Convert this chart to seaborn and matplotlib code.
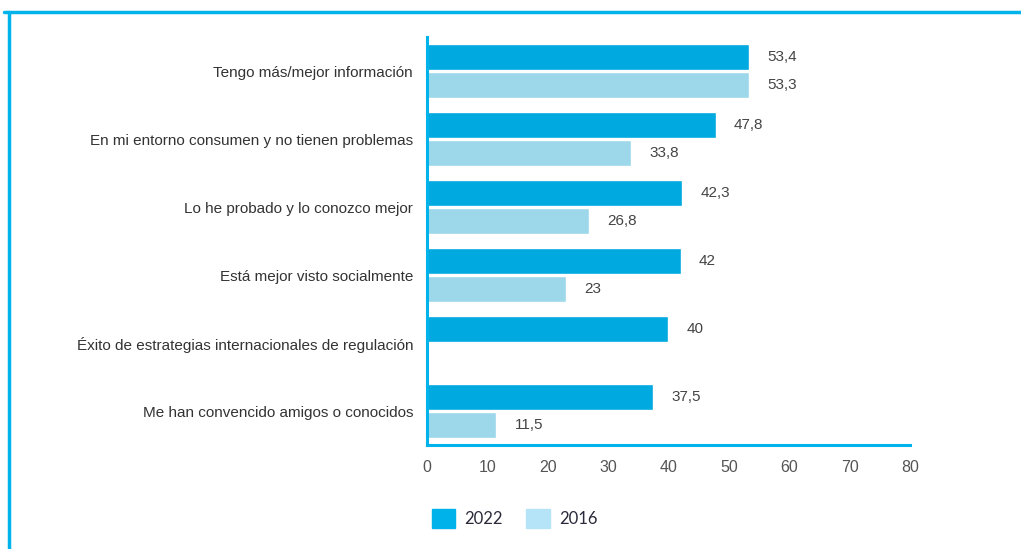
import numpy as np
import pandas as pd
import seaborn as sns
import matplotlib.pyplot as plt
from matplotlib.patches import Patch
from matplotlib.lines import Line2D

# Data
reasons = [
    "Tengo más/mejor información",
    "En mi entorno consumen y no tienen problemas",
    "Lo he probado y lo conozco mejor",
    "Está mejor visto socialmente",
    "Éxito de estrategias internacionales de regulación",
    "Me han convencido amigos o conocidos",
]
values_2022 = [53.4, 47.8, 42.3, 42, 40, 37.5]
values_2016 = [53.3, 33.8, 26.8, 23, np.nan, 11.5]
years = ["2022", "2016"]
x_ticks = [0, 10, 20, 30, 40, 50, 60, 70, 80]

df = pd.DataFrame({
    "reason": reasons * 2,
    "value": values_2022 + values_2016,
    "year": ["2022"] * len(reasons) + ["2016"] * len(reasons),
})

blue = "#00A9E0"
light = "#9CD8EA"
frame_blue = "#00B4EB"

sns.set_style("white")
plt.rcParams["font.family"] = ["Liberation Sans", "DejaVu Sans"]

fig = plt.figure(figsize=(10.21, 5.49), dpi=100)
ax = fig.add_axes([0.4182, 0.1894, 0.4731, 0.7432])

sns.barplot(data=df, y="reason", x="value", hue="year", hue_order=years,
            palette=[blue, light], orient="h", width=0.8, gap=0.05,
            saturation=1, legend=False, ax=ax)

# value labels with comma decimals
for cont in ax.containers:
    ax.bar_label(cont, fmt=lambda v: f"{v:g}".replace(".", ","),
                 padding=13, fontsize=11, color="#444444")

ax.set_xlim(0, 80)
ax.set_ylim(5.5, -0.5)
ax.set_xticks(x_ticks)
ax.set_xlabel("")
ax.set_ylabel("")
ax.tick_params(axis="x", length=0, pad=11, labelsize=11.5, labelcolor="#555555")
ax.tick_params(axis="y", length=0, pad=10, labelsize=11, labelcolor="#333333")

for s in ["top", "right"]:
    ax.spines[s].set_visible(False)
for s in ["left", "bottom"]:
    ax.spines[s].set_color(frame_blue)
    ax.spines[s].set_linewidth(2.2)

# legend
handles = [Patch(color="#00B2EA"), Patch(color="#B5E4F8")]
fig.legend(handles, years, loc="center", bbox_to_anchor=(0.504, 0.056),
           ncol=2, frameon=False, handlelength=1.4, handleheight=1.4,
           handletextpad=0.56, columnspacing=1.4,
           prop={"family": "Lato", "size": 12}, labelcolor="#2a2a3a")

# frame lines
fig.add_artist(Line2D([0.004, 1.0], [0.978, 0.978], color=frame_blue, lw=2.5,
                      transform=fig.transFigure))
fig.add_artist(Line2D([0.009, 0.009], [0.978, 0.0], color=frame_blue, lw=2.5,
                      transform=fig.transFigure))

plt.savefig("out.png", dpi=100)
